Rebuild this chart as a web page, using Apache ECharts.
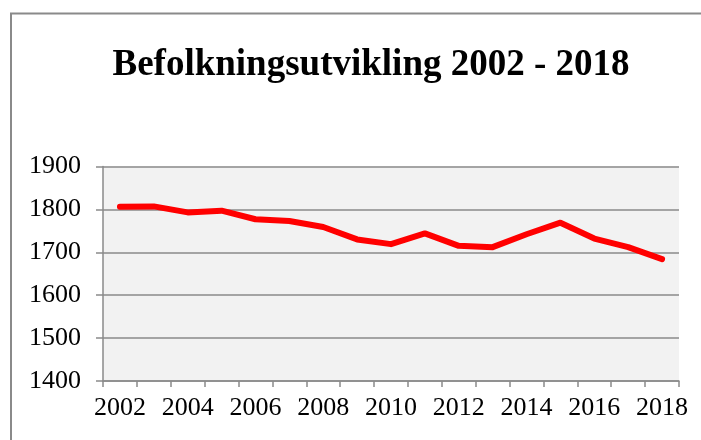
<!DOCTYPE html>
<html>
<head>
<meta charset="utf-8">
<script src="https://cdn.jsdelivr.net/npm/echarts@6/dist/echarts.min.js"></script>
<style>html,body{margin:0;padding:0;background:#fff;}#c{width:701px;height:440px;}</style>
</head>
<body>
<div id="c"></div>
<script>
const titleText = "Befolkningsutvikling 2002 - 2018";
const years = ["2002","2003","2004","2005","2006","2007","2008","2009","2010","2011","2012","2013","2014","2015","2016","2017","2018"];
const population = [1806,1807,1793,1797,1777,1773,1759,1730,1719,1744,1715,1712,1742,1769,1732,1712,1684];
const yMin = 1400, yMax = 1900, yStep = 100;

const chart = echarts.init(document.getElementById('c'), null, {renderer:'canvas'});
const serif = '"Liberation Serif","Times New Roman",serif';
const gray = '#8a8a8a';
chart.setOption({
  animation:false,
  backgroundColor:'#ffffff',
  graphic:[{type:'rect',silent:true,z:-10,shape:{x:11,y:13.5,width:800,height:600},style:{fill:'none',stroke:gray,lineWidth:2}}],
  title:{text:titleText,left:366,top:41.5,textAlign:'center',textStyle:{fontFamily:serif,fontWeight:'bold',fontSize:37,color:'#000'}},
  grid:{left:103,right:22,top:166.5,bottom:59,show:true,backgroundColor:'#f2f2f2',borderWidth:0},
  xAxis:{type:'category',data:years,boundaryGap:true,
    axisLine:{show:true,lineStyle:{color:gray,width:1.5}},
    axisTick:{show:true,interval:0,length:6,lineStyle:{color:gray,width:1.5}},
    axisLabel:{interval:1,margin:14,fontFamily:serif,fontSize:26,color:'#000'},
    splitLine:{show:false}},
  yAxis:{type:'value',min:yMin,max:yMax,interval:yStep,
    axisLine:{show:true,lineStyle:{color:gray,width:1.5}},
    axisTick:{show:true,length:7,lineStyle:{color:gray,width:1.5}},
    axisLabel:{margin:22,fontFamily:serif,fontSize:26,color:'#000',formatter:function(v){return String(v);}},
    splitLine:{show:true,lineStyle:{color:gray,width:1.5}}},
  series:[{type:'line',data:population,symbol:'none',smooth:false,
    lineStyle:{color:'#ff0000',width:6,cap:'round',join:'round'}}]
});
</script>
</body>
</html>
